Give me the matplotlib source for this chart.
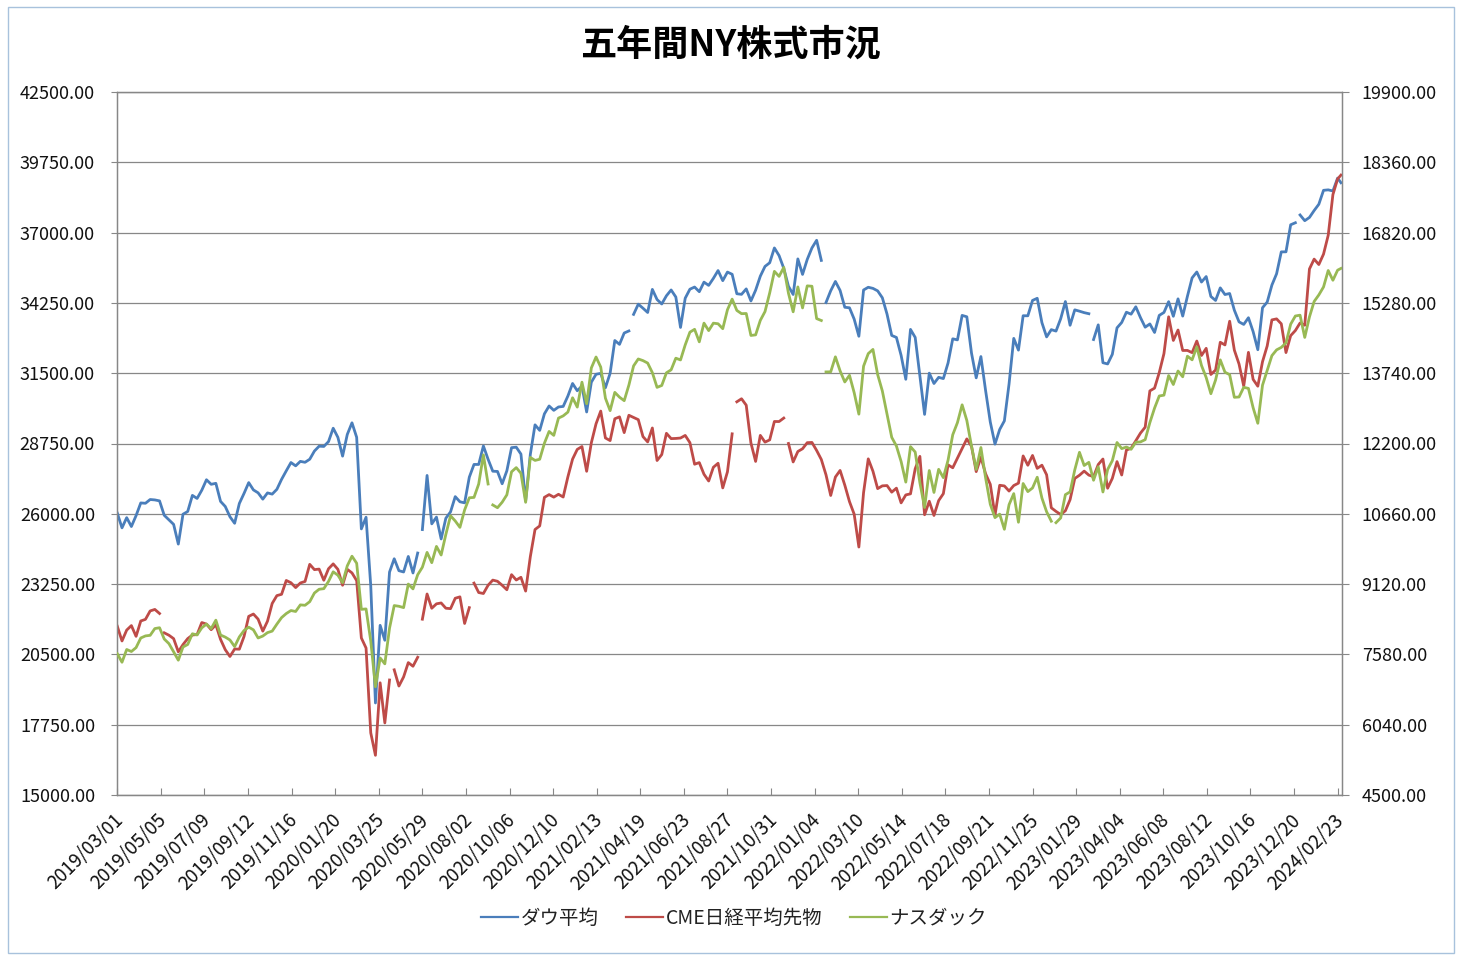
import matplotlib
matplotlib.use('Agg')
import matplotlib.pyplot as plt
from matplotlib.lines import Line2D
from matplotlib.patches import Rectangle
from matplotlib.transforms import ScaledTranslation
import numpy as np
import pandas as pd

plt.rcParams['font.family'] = ['Noto Sans CJK JP', 'DejaVu Sans']

# ---------------- data ----------------
week_dates = list(pd.date_range('2019-03-01', periods=261, freq='7D')) + [pd.Timestamp('2024-02-28')]

dow = [
    26026, 25450, 25849, 25502, 25929, 26425, 26412, 26559, 26543, 26505,
    25942, 25764, 25586, 24815, 25984, 26090, 26720, 26600, 26922, 27332,
    27154, 27192, 26485, 26287, 25886, 25629, 26403, 26797, 27220, 26935,
    26820, 26573, 26817, 26770, 26958, 27347, 27681, 28005, 27876, 28051,
    28015, 28135, 28455, 28645,
    28635, 28824, 29348, 28990, 28256, 29103, 29560, 28992, 25409, 25865,
    23186, 18600, 21637, 21053, 23719, 24242, 23775, 23724, 24331, 23685,
    24465, 25383, 27500, 25606, 25871, 25016, 25827, 26075, 26672, 26470,
    26428, 27433, 27931, 27930, 28654, 28133, 27666, 27657, 27174, 27683,
    28587, 28606, 28336, 26502, 28323, 29480, 29263, 29910, 30218, 30047,
    30179, 30200, 30606,
    31098, 30814, 30997, 29983, 31148, 31458, 31494, 30932, 31496, 32779,
    32628, 33072, 33153, 33801, 34200, 34043, 33875, 34778, 34382, 34208,
    34529, 34756, 34480, 33290, 34434, 34786, 34870, 34688, 35062, 34935,
    35209, 35515, 35120, 35456, 35369, 34608, 34585, 34798, 34326, 34746,
    35295, 35677, 35820, 36400, 36100, 35602, 34899, 34580, 35971, 35365,
    35951, 36400,
    36700, 35912, 34265, 34725, 35089, 34738, 34079, 34059, 33615, 32945,
    34755, 34862, 34818, 34721, 34451, 33811, 32977, 32899, 32197, 31262,
    33213, 32900, 31393, 29889, 31501, 31097, 31338, 31289, 31899, 32845,
    32803, 33761, 33707, 32283, 31318, 32151, 30822, 29590, 28726, 29297,
    29635, 31083, 32862, 32403, 33748, 33746, 34347, 34430, 33477, 32920,
    33204, 33147,
    33631, 34303, 33375, 33978, 33926, 33869, 33827, 32817, 33391, 31910,
    31862, 32238, 33274, 33485, 33886, 33809, 34098, 33674, 33300, 33427,
    33093, 33762, 33876, 34299, 33727, 34408, 33734, 34509, 35228, 35459,
    35066, 35281, 34501, 34346, 34838, 34577, 34618, 33964, 33508, 33408,
    33670, 33127, 32418, 34061, 34283, 34947, 35390, 36246, 36248, 37306,
    37385, 37690,
    37466, 37593, 37863, 38109, 38654, 38672, 38628, 39131, 38950,
]

cme_nikkei = [
    21602, 21025, 21451, 21627, 21206, 21807, 21871, 22200, 22259, 22100,
    21344, 21250, 21117, 20601, 20885, 21117, 21259, 21276, 21746, 21686,
    21467, 21658, 21087, 20685, 20419, 20711, 20704, 21200, 21988, 22079,
    21879, 21410, 21799, 22493, 22800, 22851, 23392, 23303, 23113, 23294,
    23354, 24023, 23816, 23837,
    23400, 23850, 24041, 23827, 23205, 23828, 23688, 23386, 21143, 20749,
    17431, 16553, 19389, 17820, 19498, 19897, 19262, 19619, 20179, 20037,
    20388, 21877, 22863, 22305, 22478, 22512, 22306, 22290, 22696, 22751,
    21710, 22329, 23289, 22920, 22882, 23205, 23406, 23360, 23204, 23029,
    23619, 23410, 23516, 22977, 24325, 25385, 25527, 26644, 26751, 26652,
    26763, 26656, 27444,
    28139, 28519, 28631, 27663, 28779, 29520, 30018, 28966, 28864, 29717,
    29792, 29176, 29854, 29768, 29683, 29020, 28812, 29357, 28084, 28317,
    29149, 28941, 28948, 28964, 29066, 28783, 27940, 28003, 27548, 27283,
    27820, 27977, 27013, 27641, 29128, 30381, 30500, 30248, 28771, 28049,
    29068, 28804, 28892, 29611, 29609, 29745, 28751, 28029, 28437, 28545,
    28782, 28791,
    28478, 28124, 27522, 26717, 27439, 27696, 27122, 26476, 25985, 24700,
    26827, 28149, 27665, 26985, 27093, 27105, 26847, 27003, 26427, 26739,
    26781, 27761, 28246, 25963, 26491, 25935, 26517, 26788, 27914, 27801,
    28175, 28546, 28930, 28641, 27650, 28214, 27567, 27153, 25937, 27116,
    27090, 26890, 27105, 27199, 28263, 27899, 28283, 27777, 27901, 27527,
    26235, 26094,
    25973, 26119, 26553, 27382, 27509, 27670, 27513, 27453, 27927, 28143,
    27000, 27385, 28041, 27518, 28493, 28564, 28856, 29157, 29388, 30808,
    30916, 31524, 32265, 33706, 32782, 33189, 32389, 32391, 32304, 32759,
    32193, 32474, 31450, 31624, 32710, 32606, 33533, 32402, 31858, 30995,
    32316, 31259, 30991, 31950, 32568, 33585, 33625, 33432, 32307, 32970,
    33169, 33464,
    33377, 35577, 35963, 35751, 36158, 36897, 38487, 39098, 39250,
]

nasdaq = [
    7595, 7408, 7688, 7643, 7729, 7939, 7985, 7998, 8146, 8164,
    7917, 7816, 7637, 7453, 7742, 7797, 8032, 8006, 8162, 8244,
    8146, 8330, 8004, 7959, 7896, 7751, 7963, 8103, 8177, 8118,
    7940, 7982, 8057, 8090, 8243, 8386, 8475, 8541, 8520, 8665,
    8656, 8735, 8925, 9007,
    9020, 9179, 9389, 9315, 9151, 9520, 9731, 9577, 8567, 8576,
    7875, 6870, 7502, 7373, 8154, 8650, 8634, 8605, 9121, 9015,
    9325, 9490, 9815, 9589, 9946, 9757, 10208, 10617, 10503, 10363,
    10745, 11011, 11019, 11312, 11950, 11313, 10854, 10793, 10914, 11076,
    11580, 11672, 11548, 10912, 11895, 11829, 11855, 12206, 12464, 12378,
    12756, 12805, 12888,
    13202, 12998, 13543, 13071, 13856, 14095, 13874, 13192, 12920, 13320,
    13215, 13138, 13480, 13900, 14052, 14016, 13962, 13752, 13430, 13471,
    13749, 13814, 14069, 14030, 14360, 14639, 14701, 14427, 14837, 14673,
    14836, 14823, 14715, 15130, 15363, 15115, 15044, 15048, 14567, 14580,
    14897, 15090, 15498, 15971, 15861, 16057, 15491, 15085, 15630, 15170,
    15653, 15645,
    14936, 14894, 13768, 13770, 14098, 13791, 13548, 13694, 13313, 12843,
    13894, 14169, 14261, 13711, 13351, 12839, 12335, 12145, 11805, 11354,
    12131, 12013, 11340, 10798, 11608, 11128, 11635, 11452, 11834, 12391,
    12657, 13047, 12705, 12142, 11631, 12112, 11448, 10868, 10576, 10652,
    10321, 10860, 11102, 10475, 11323, 11146, 11226, 11461, 11005, 10705,
    10498, 10466,
    10569, 11079, 11140, 11622, 12007, 11718, 11787, 11395, 11689, 11138,
    11630, 11824, 12222, 12088, 12123, 12073, 12227, 12235, 12284, 12658,
    12976, 13241, 13259, 13689, 13492, 13788, 13661, 14113, 14033, 14317,
    13909, 13645, 13291, 13591, 14032, 13762, 13708, 13212, 13219, 13431,
    13407, 12984, 12643, 13478, 13798, 14125, 14251, 14305, 14404, 14814,
    14993, 15011,
    14524, 14973, 15311, 15455, 15629, 15990, 15776, 15997, 16035,
]

# days with no quote (visible breaks in the lines)
dow_gaps = ['2020-05-25', '2021-04-02', '2022-01-17', '2023-02-20', '2023-12-25']
cme_gaps = ['2019-05-06', '2020-04-10', '2020-05-25', '2020-08-10', '2021-09-06', '2021-11-25']
nasdaq_gaps = ['2020-09-07', '2022-01-17', '2022-12-26']

series_names = ['ダウ平均', 'CME日経平均先物', 'ナスダック']
series_colors = ['#4A7EBB', '#BE4B48', '#98B954']

left_ticks = np.arange(15000, 42500 + 1, 2750)
right_ticks = np.arange(4500, 19900 + 1, 1540)
x_ticks = pd.date_range('2019-03-01', '2024-02-23', freq='65D')
title = '五年間NY株式市況'


def with_gaps(vals, gaps):
    idx = pd.DatetimeIndex(week_dates)
    s = pd.Series(np.asarray(vals, dtype=float), index=idx)
    gi = []
    for g in pd.to_datetime(gaps):
        if g in idx:
            g = g + pd.Timedelta(hours=12)
        gi.append(g)
    s = pd.concat([s, pd.Series(np.nan, index=pd.DatetimeIndex(gi))]).sort_index()
    return s


W, H = 1460, 960
fig = plt.figure(figsize=(W / 100, H / 100), dpi=100)
fig.patch.set_facecolor('white')

L, R, T, B = 117.3, 1342.3, 92, 795
ax = fig.add_axes([L / W, 1 - B / H, (R - L) / W, (B - T) / H])
ax2 = ax.twinx()

gray = '#878787'

s_dow = with_gaps(dow, dow_gaps)
s_cme = with_gaps(cme_nikkei, cme_gaps)
s_nas = with_gaps(nasdaq, nasdaq_gaps)

lw = 2.0
ax.plot(s_dow.index, s_dow.values, color=series_colors[0], lw=lw, solid_joinstyle='round', zorder=3)
ax.plot(s_cme.index, s_cme.values, color=series_colors[1], lw=lw, solid_joinstyle='round', zorder=4)
ax2.plot(s_nas.index, s_nas.values, color=series_colors[2], lw=lw, solid_joinstyle='round', zorder=3)

xmin, xmax = pd.Timestamp('2019-03-01'), pd.Timestamp('2024-03-01')
ax.set_xlim(xmin, xmax)
ax.set_ylim(15000, 42500)
ax2.set_ylim(4500, 19900)
ax.set_yticks(left_ticks)
ax2.set_yticks(right_ticks)
ax.set_yticklabels([f'{v:.2f}' for v in left_ticks])
ax2.set_yticklabels([f'{v:.2f}' for v in right_ticks])
ax.set_xticks(x_ticks)
ax.set_xticklabels([d.strftime('%Y/%m/%d') for d in x_ticks])

ax.grid(axis='y', color=gray, lw=0.9)
ax.set_axisbelow(True)
for a in (ax, ax2):
    for sp in a.spines.values():
        sp.set_color(gray)
        sp.set_linewidth(0.9)
    a.set_facecolor('none')

ax.tick_params(axis='y', direction='out', length=4, color=gray, labelsize=13, pad=12, labelcolor='#111111')
ax2.tick_params(axis='y', direction='out', length=5, color=gray, labelsize=13, pad=9, labelcolor='#111111')
ax.tick_params(axis='x', direction='in', length=5, color=gray, labelsize=13.5, pad=16, labelcolor='#111111')
offset = ScaledTranslation(3 / 100, 0, fig.dpi_scale_trans)
for lbl in ax.get_xticklabels():
    lbl.set_rotation(45)
    lbl.set_ha('right')
    lbl.set_va('center')
    lbl.set_rotation_mode('anchor')
    lbl.set_transform(lbl.get_transform() + offset)

fig.text(730 / W, 1 - 45 / H, title, ha='center', va='center', fontsize=26, fontweight='bold', color='#000000')

handles = [Line2D([], [], color=c, lw=1.6) for c in series_colors]
fig.legend(handles, series_names, loc='center', bbox_to_anchor=(734 / W, 1 - 918 / H), ncol=3,
           frameon=False, fontsize=14, handlelength=1.9, handletextpad=0.15, columnspacing=1.4,
           labelcolor='#222222')

fig.patches.append(Rectangle((8 / W, 7 / H), (1454 - 8) / W, (953 - 7) / H, transform=fig.transFigure,
                             fill=False, ec='#A8C2DC', lw=1.0))

fig.savefig('out.png', dpi=100, facecolor='white')
